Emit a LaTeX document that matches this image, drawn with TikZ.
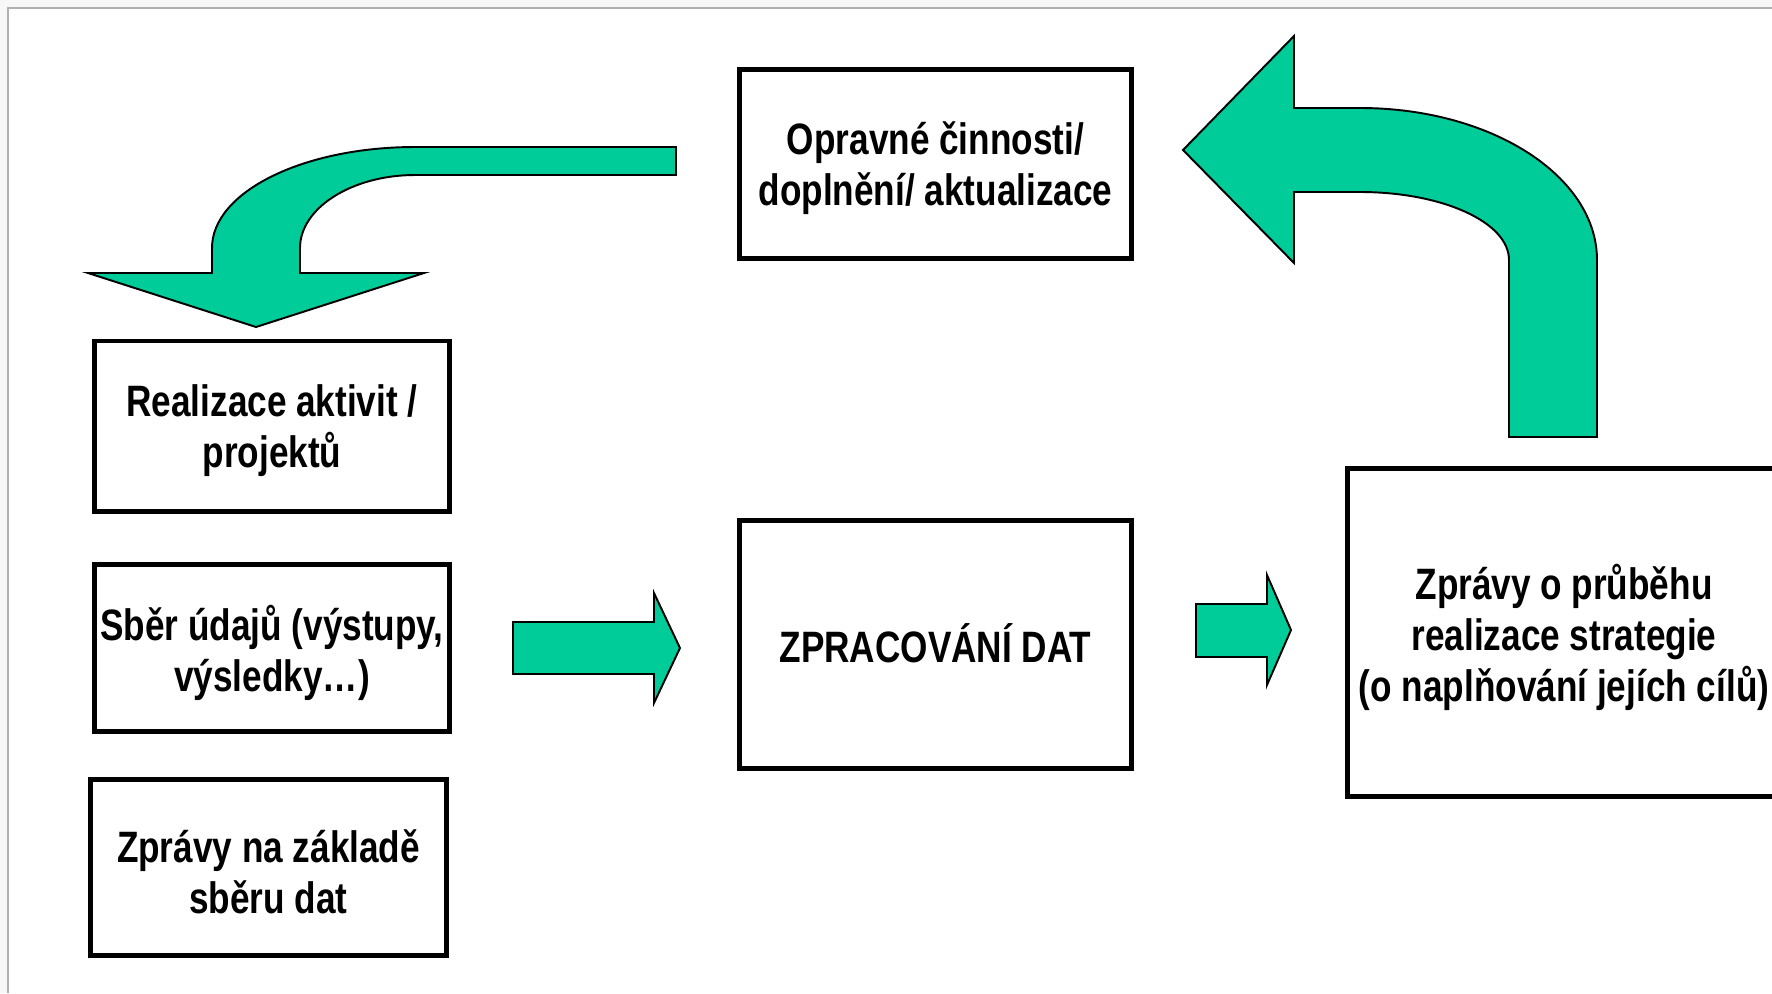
\documentclass[tikz,border=0pt]{standalone}
\usepackage{fontspec}
\setmainfont[FakeStretch=0.8]{Liberation Sans}
\definecolor{arrowgreen}{HTML}{00CC99}
\definecolor{outerbg}{HTML}{F7F7F7}
\definecolor{framegray}{HTML}{B0B0B0}
\tikzset{
  box/.style={draw=black, line width=1.4pt, fill=white, inner sep=0pt},
  boxtext/.style={align=center, inner sep=0pt, yshift=-0.045cm,
    font=\bfseries\fontsize{12.5}{14.5}\selectfont},
  bigarrow/.style={fill=arrowgreen, draw=black, line width=0.55pt, line join=miter}
}
\begin{document}
\begin{tikzpicture}[x=0.01cm,y=-0.01cm]
\useasboundingbox (0,0) rectangle (1772,993);
\fill[outerbg] (0,0) rectangle (1772,993);
\fill[white] (8,8) rectangle (1772,993);
\draw[framegray, line width=0.6pt] (8,993) -- (8,8) -- (1772,8);

\begin{scope}
\clip (0,0) rectangle (1772,993);
% boxes
\node[box, minimum width=3.91cm, minimum height=1.88cm,
  label={[boxtext]center:Opravné činnosti/\\doplnění/ aktualizace}] (oprav) at (935.5,164) {};
\node[box, minimum width=3.54cm, minimum height=1.70cm,
  label={[boxtext]center:Realizace aktivit /\\projektů}] (real) at (272,426) {};
\node[box, minimum width=3.54cm, minimum height=1.67cm,
  label={[boxtext]center:Sběr údajů (výstupy,\\výsledky…)}] (sber) at (272,648) {};
\node[box, minimum width=3.55cm, minimum height=1.76cm,
  label={[boxtext]center:Zprávy na základě\\sběru dat}] (zpr) at (268.5,867.5) {};
\node[box, minimum width=3.91cm, minimum height=2.47cm,
  label={[boxtext, yshift=0.06cm]center:ZPRACOVÁNÍ DAT}] (zprac) at (935.5,644.5) {};
\node[box, minimum width=4.32cm, minimum height=3.27cm,
  label={[boxtext]center:Zprávy o průběhu\\realizace strategie\\(o naplňování jejích cílů)}] (prub) at (1564,632.5) {};

% curved arrow to the left box
\filldraw[bigarrow] (676,147) -- (415,147) .. controls (303,147) and (212,192) .. (212,248)
  -- (212,273) -- (88,273) -- (256,327) -- (424,273) -- (300,273) -- (300,248)
  .. controls (300,208) and (352,175) .. (415,175) -- (676,175) -- cycle;

% curved arrow from the right box up and left
\filldraw[bigarrow] (1509,437) -- (1509,260) .. controls (1509,222) and (1442,192) .. (1360,192)
  -- (1294,192) -- (1294,263) -- (1183,150) -- (1294,36) -- (1294,108) -- (1360,108)
  .. controls (1491,108) and (1597,176) .. (1597,260) -- (1597,437) -- cycle;

% straight arrows
\filldraw[bigarrow] (513,622) -- (654,622) -- (654,593) -- (680,648) -- (654,703) -- (654,674) -- (513,674) -- cycle;
\filldraw[bigarrow] (1196,604) -- (1267,604) -- (1267,575) -- (1291,630) -- (1267,685) -- (1267,657) -- (1196,657) -- cycle;
\end{scope}
\end{tikzpicture}
\end{document}
